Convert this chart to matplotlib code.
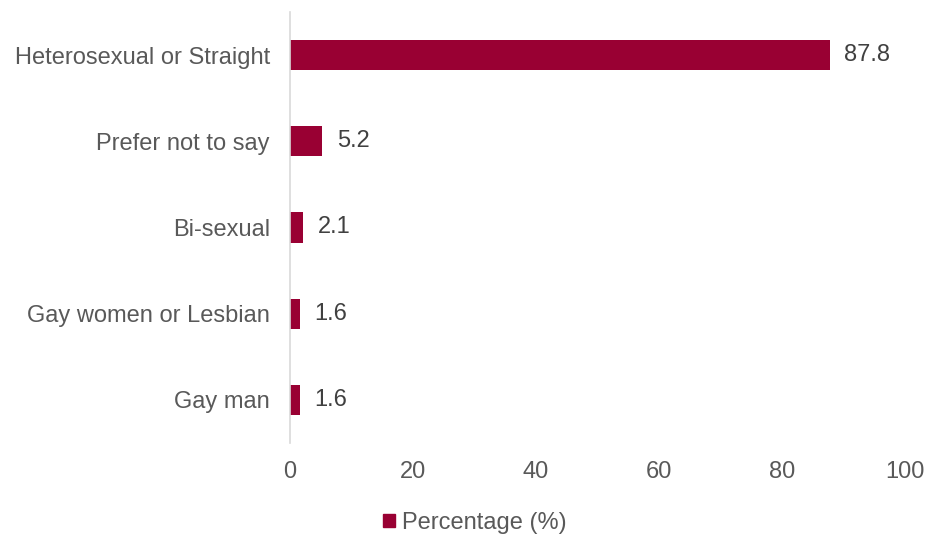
import matplotlib.pyplot as plt
from matplotlib.patches import Patch

plt.rcParams['font.family'] = ['Liberation Sans', 'DejaVu Sans']

categories = ['Gay man', 'Gay women or Lesbian', 'Bi-sexual',
              'Prefer not to say', 'Heterosexual or Straight']
percentages = [1.6, 1.6, 2.1, 5.2, 87.8]
series_name = 'Percentage (%)'

bar_color = '#990033'
text_color = '#595959'

fig = plt.figure(figsize=(9.25, 5.41), dpi=100)
ax = fig.add_axes([0.3135, 0.181, 0.6645, 0.797])

ypos = range(len(categories))
ax.barh(ypos, percentages, height=0.35, color=bar_color)
for y, v in zip(ypos, percentages):
    ax.text(v + 2.4, y, f'{v:.1f}', va='center', ha='left',
            fontsize=17, color='#404040')

ax.set_xlim(0, 100)
ax.set_ylim(-0.5, len(categories) - 0.5)
ax.set_xticks(range(0, 101, 20))
ax.set_yticks(list(ypos))
ax.set_yticklabels(categories)
ax.tick_params(axis='both', length=0, labelsize=17, labelcolor=text_color)
ax.tick_params(axis='x', pad=13)
ax.tick_params(axis='y', pad=14.5)

for side in ['top', 'right', 'bottom']:
    ax.spines[side].set_visible(False)
ax.spines['left'].set_color('#d9d9d9')
ax.spines['left'].set_linewidth(1.2)

fig.legend(handles=[Patch(color=bar_color, label=series_name)],
           loc='center', bbox_to_anchor=(0.513, 0.033), frameon=False,
           fontsize=17, labelcolor=text_color, handlelength=0.5,
           handleheight=0.5, handletextpad=0.3)

fig.savefig('out.png', dpi=100)
